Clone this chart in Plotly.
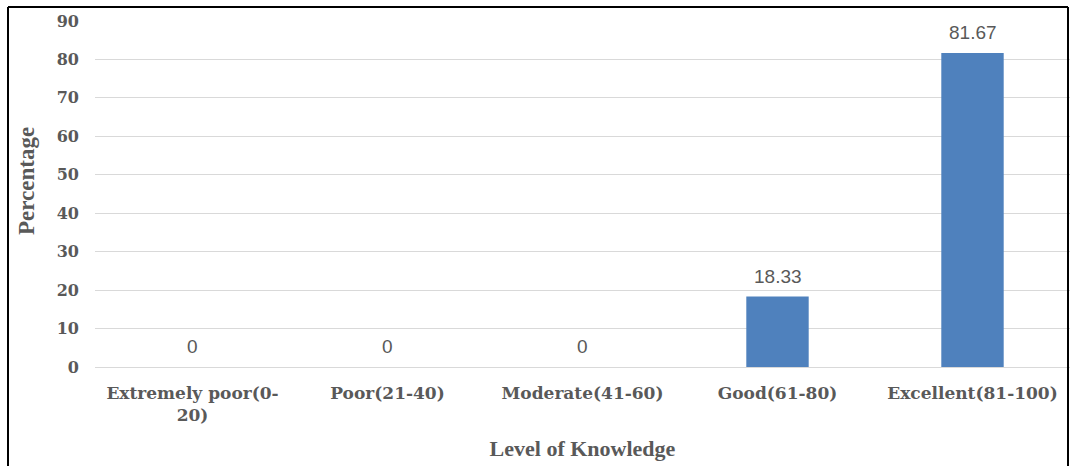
import plotly.graph_objects as go

# Knowledge level categories and share of respondents (%)
categories = ["Extremely poor(0-<br>20)", "Poor(21-40)", "Moderate(41-60)",
              "Good(61-80)", "Excellent(81-100)"]
percentages = [0, 0, 0, 18.33, 81.67]
y_ticks = [0, 10, 20, 30, 40, 50, 60, 70, 80, 90]

W, H = 1070, 466
L, R, T, B = 95, 0, 21, 99

fig = go.Figure(
    go.Bar(
        x=categories,
        y=percentages,
        marker=dict(color="#4F81BD", line=dict(width=0)),
        width=0.32,
    )
)

# Value labels above each bar
for cat, val in zip(categories, percentages):
    fig.add_annotation(
        x=cat, y=val, xref="x", yref="y",
        text=f"{val:g}", showarrow=False,
        yanchor="bottom", yshift=8,
        font=dict(family="Liberation Sans", size=19, color="#595959"),
    )

fig.update_layout(
    width=W, height=H,
    margin=dict(l=L, r=R, t=T, b=B),
    paper_bgcolor="white", plot_bgcolor="white",
    showlegend=False,
)

pw, ph = W - L - R, H - T - B
def px(x):
    return (x - L) / pw
def py(y):
    return (H - B - y) / ph

# Vertical axis title
fig.add_annotation(
    x=px(26), y=py(181), xref="paper", yref="paper",
    text="<b>Percentage</b>", showarrow=False, textangle=-90,
    xanchor="center", yanchor="middle",
    font=dict(family="Liberation Serif", size=23, color="#595959"),
)

fig.update_yaxes(
    range=[0, 90], tickvals=y_ticks,
    showgrid=True, gridcolor="#D9D9D9", gridwidth=1,
    zeroline=True, zerolinecolor="#D9D9D9", zerolinewidth=1,
    showline=False, ticks="", ticklabelstandoff=15,
    tickfont=dict(family="DejaVu Serif", size=16, color="#595959", weight="bold"),
)
fig.update_xaxes(
    showgrid=False, showline=False, ticks="", ticklabelstandoff=14,
    tickfont=dict(family="DejaVu Serif", size=17, color="#595959", weight="bold"),
    title=dict(text="<b>Level of Knowledge</b>", standoff=16,
               font=dict(family="Liberation Serif", size=22, color="#595959")),
)

# Black frame along the top and sides of the figure
for x0, y0, x1, y1 in [(8, 7, 1068, 7), (8, 7, 8, 466), (1068, 7, 1068, 466)]:
    fig.add_shape(type="line", xref="paper", yref="paper",
                  x0=px(x0), y0=py(y0), x1=px(x1), y1=py(y1),
                  line=dict(color="black", width=2), layer="above")

fig.write_html("out.html")
